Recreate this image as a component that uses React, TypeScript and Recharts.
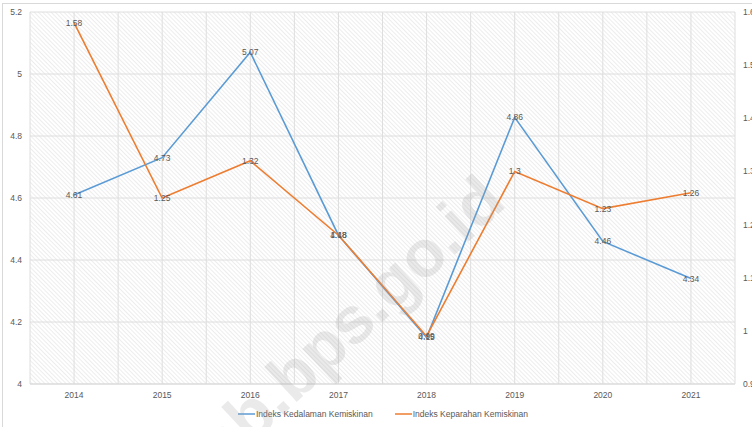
import React from 'react';
import { LineChart, Line, XAxis, YAxis, CartesianGrid, Legend } from 'recharts';

const years = ['2014', '2015', '2016', '2017', '2018', '2019', '2020', '2021'];
const kedalaman = [4.61, 4.73, 5.07, 4.48, 4.15, 4.86, 4.46, 4.34];
const keparahan = [1.58, 1.25, 1.32, 1.18, 0.99, 1.3, 1.23, 1.26];
const leftTicks = [4, 4.2, 4.4, 4.6, 4.8, 5, 5.2];
const rightTicks = [0.9, 1, 1.1, 1.2, 1.3, 1.4, 1.5, 1.6];
const seriesNames = ['Indeks Kedalaman Kemiskinan', 'Indeks Keparahan Kemiskinan'];
const watermarkText = 'kab.bps.go.id';

const data = years.map((y, i) => ({ year: y, kedalaman: kedalaman[i], keparahan: keparahan[i] }));

const FONT = '"Liberation Sans", Arial, sans-serif';
const TEXT = '#595959';
const BLUE = '#5B9BD5';
const ORANGE = '#ED7D31';

const renderLabel = (props: any) => {
  const { x, y, value } = props;
  if (x == null || y == null) return null;
  return (
    <text x={x} y={y} dy="0.35em" textAnchor="middle" fontSize={8.5} fontFamily={FONT} fill={TEXT}>
      {value}
    </text>
  );
};

const renderLegend = (props: any) => {
  const payload = props.payload || [];
  return (
    <div style={{ display: 'flex', justifyContent: 'center', paddingLeft: 14, paddingTop: 5, fontFamily: FONT, fontSize: 8.5, color: TEXT }}>
      {payload.map((p: any, i: number) => (
        <span key={i} style={{ display: 'flex', alignItems: 'center', marginRight: i === 0 ? 22 : 0 }}>
          <svg width={17} height={8} style={{ marginRight: 1 }}>
            <line x1={0} y1={4} x2={17} y2={4} stroke={p.color} strokeWidth={1.5} />
          </svg>
          {p.value}
        </span>
      ))}
    </div>
  );
};

export default function App() {
  return (
    <div style={{ position: 'absolute', left: 0, top: 0, width: 752, height: 427, background: '#fff', overflow: 'hidden' }}>
      <div style={{ position: 'absolute', left: 2, top: 3, width: 780, height: 440, border: '1px solid #d9d9d9' }} />
      <LineChart width={752} height={427} data={data} margin={{ top: 12, right: 0, left: 0, bottom: 0 }}>
        <defs>
          <pattern id="hatch" width="3" height="3" patternUnits="userSpaceOnUse" patternTransform="rotate(-45)">
            <rect width="3" height="3" fill="#ffffff" />
            <line x1="0" y1="0" x2="0" y2="3" stroke="#e2e2e2" strokeWidth="1.2" />
          </pattern>
        </defs>
        <CartesianGrid
          yAxisId="left"
          fill="url(#hatch)"
          stroke="#dedede"
          verticalCoordinatesGenerator={({ offset }: any) =>
            Array.from({ length: 17 }, (_, i) => offset.left + (offset.width * i) / 16)
          }
        />
        <XAxis
          dataKey="year"
          height={20}
          padding={{ left: 44, right: 44 }}
          axisLine={{ stroke: '#d9d9d9' }}
          tickLine={false}
          tick={{ fontSize: 8.5, fill: TEXT, fontFamily: FONT }}
        />
        <YAxis
          yAxisId="left"
          width={30}
          domain={[4, 5.2]}
          ticks={leftTicks}
          axisLine={false}
          tickLine={false}
          tick={{ fontSize: 8.5, fill: TEXT, fontFamily: FONT }}
        />
        <YAxis
          yAxisId="right"
          orientation="right"
          width={17}
          domain={[0.9, 1.6]}
          ticks={rightTicks}
          axisLine={false}
          tickLine={false}
          tick={{ fontSize: 8.5, fill: TEXT, fontFamily: FONT, textAnchor: 'start' }}
        />
        <Legend verticalAlign="bottom" height={23} content={renderLegend} />
        <Line
          yAxisId="left"
          dataKey="kedalaman"
          name={seriesNames[0]}
          stroke={BLUE}
          strokeWidth={1.6}
          dot={false}
          isAnimationActive={false}
          label={renderLabel}
        />
        <Line
          yAxisId="right"
          dataKey="keparahan"
          name={seriesNames[1]}
          stroke={ORANGE}
          strokeWidth={1.6}
          dot={false}
          isAnimationActive={false}
          label={renderLabel}
        />
      </LineChart>
      <svg width={752} height={427} style={{ position: 'absolute', left: 0, top: 0, pointerEvents: 'none' }}>
        <text
          transform="translate(508,205) rotate(-43)"
          textAnchor="end"
          fontSize={66}
          fontWeight="bold"
          fontFamily={FONT}
          fill="#a0a0a0"
          fillOpacity={0.22}
        >
          {watermarkText}
        </text>
      </svg>
    </div>
  );
}
